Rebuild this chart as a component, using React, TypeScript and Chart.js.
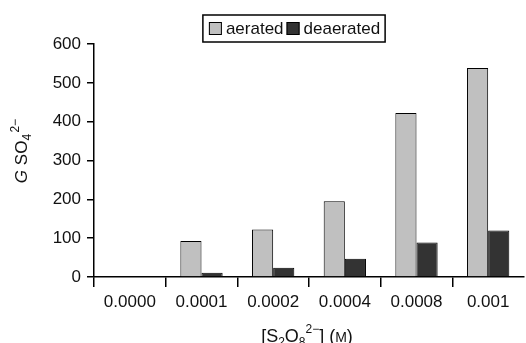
import React, { useEffect, useRef } from 'react';
import { Chart, registerables } from 'chart.js';

Chart.register(...registerables);

const categories = ['0.0000', '0.0001', '0.0002', '0.0004', '0.0008', '0.001'];
const aerated = [2, 93, 122, 195, 422, 538];
const deaerated = [0, 11, 24, 47, 89, 120];
const seriesNames = ['aerated', 'deaerated'];
const seriesColors = ['#c0c0c0', '#333333'];
const yMin = 0;
const yMax = 600;
const yStep = 100;

const FAMILY = "'Liberation Sans', Arial, sans-serif";
const TEXT = '#111';

type Seg = { t: string; size: number; dy: number; italic?: boolean };

function segWidth(ctx: CanvasRenderingContext2D, s: Seg) {
  ctx.font = `${s.italic ? 'italic ' : ''}${s.size}px ${FAMILY}`;
  return ctx.measureText(s.t).width;
}

function drawRich(ctx: CanvasRenderingContext2D, segs: Seg[], cx: number, by: number) {
  let total = 0;
  for (const s of segs) total += segWidth(ctx, s);
  let x = cx - total / 2;
  ctx.textAlign = 'left';
  ctx.textBaseline = 'alphabetic';
  for (const s of segs) {
    const w = segWidth(ctx, s);
    ctx.fillText(s.t, x, by + s.dy);
    x += w;
  }
}

const xTickColor = (c: any) =>
  typeof c.index === 'number' && c.index < categories.length ? '#000' : 'rgba(0,0,0,0)';

const annotPlugin = {
  id: 'annot',
  afterDraw(chart: any) {
    const ctx: CanvasRenderingContext2D = chart.ctx;
    ctx.save();
    ctx.fillStyle = TEXT;

    const fs = 17;
    ctx.font = `${fs}px ${FAMILY}`;
    const ds = chart.data.datasets;
    const box = 13, gapBT = 4, gapItem = 3, padL = 6, padR = 5;
    let total = padL + padR;
    const widths = ds.map((d: any) => ctx.measureText(d.label).width);
    ds.forEach((d: any, i: number) => {
      total += box + gapBT + widths[i];
      if (i < ds.length - 1) total += gapItem;
    });
    const cx = 294;
    const top = 15, h = 27;
    const left = cx - total / 2;
    ctx.strokeStyle = '#000';
    ctx.lineWidth = 1.5;
    ctx.strokeRect(left, top, total, h);
    let x = left + padL;
    const my = top + h / 2;
    ds.forEach((d: any, i: number) => {
      ctx.fillStyle = d.backgroundColor;
      ctx.fillRect(x, my - box / 2, box, box);
      ctx.lineWidth = 1;
      ctx.strokeStyle = '#000';
      ctx.strokeRect(x + 0.5, my - box / 2 + 0.5, box - 1, box - 1);
      x += box + gapBT;
      ctx.fillStyle = TEXT;
      ctx.font = `${fs}px ${FAMILY}`;
      ctx.textAlign = 'left';
      ctx.textBaseline = 'middle';
      ctx.fillText(d.label, x, my + 1);
      x += widths[i] + gapItem;
    });

    ctx.fillStyle = TEXT;
    ctx.save();
    ctx.translate(27, 151);
    ctx.rotate(-Math.PI / 2);
    drawRich(ctx, [
      { t: 'G', size: 17, dy: 0, italic: true },
      { t: ' SO', size: 17, dy: 0 },
      { t: '4', size: 12, dy: 4 },
      { t: ' ', size: 5, dy: 0 },
      { t: '2\u2212', size: 12, dy: -8 },
    ], 0, 0);
    ctx.restore();

    drawRich(ctx, [
      { t: '[S', size: 18, dy: 0 },
      { t: '2', size: 12, dy: 4 },
      { t: 'O', size: 18, dy: 0 },
      { t: '8', size: 12, dy: 4 },
      { t: '2\u2212', size: 12, dy: -9 },
      { t: '] (', size: 18, dy: 0 },
      { t: 'M', size: 14, dy: 0 },
      { t: ')', size: 18, dy: 0 },
    ], 307, 342);

    ctx.restore();
  },
};

export default function App() {
  const ref = useRef<HTMLCanvasElement>(null);
  useEffect(() => {
    const canvas = ref.current;
    if (!canvas) return;
    const chart = new Chart(canvas, {
      type: 'bar',
      data: {
        labels: categories,
        datasets: [
          {
            label: seriesNames[0],
            data: aerated,
            backgroundColor: seriesColors[0],
            borderColor: '#000',
            borderWidth: 1,
            categoryPercentage: 0.59,
            barPercentage: 1.0,
          },
          {
            label: seriesNames[1],
            data: deaerated,
            backgroundColor: seriesColors[1],
            borderColor: '#000',
            borderWidth: 1,
            categoryPercentage: 0.59,
            barPercentage: 1.0,
          },
        ],
      },
      options: {
        responsive: false,
        animation: false,
        layout: { padding: { top: 44, right: 2, left: 0, bottom: 0 } },
        plugins: {
          legend: { display: false },
          tooltip: { enabled: false },
          title: { display: false },
        },
        scales: {
          x: {
            type: 'category',
            grid: {
              offset: true,
              drawOnChartArea: false,
              drawTicks: true,
              tickLength: 10,
              color: xTickColor,
              tickColor: xTickColor,
              lineWidth: 1.5,
              tickWidth: 1.5,
            },
            border: { color: '#000', width: 1.5 },
            ticks: {
              color: TEXT,
              font: { family: FAMILY, size: 17 },
              padding: 5,
              maxRotation: 0,
              autoSkip: false,
            },
            afterFit: (s: any) => {
              s.height = 66;
            },
          },
          y: {
            min: yMin,
            max: yMax,
            grid: {
              drawOnChartArea: false,
              drawTicks: true,
              tickLength: 7,
              color: '#000',
              lineWidth: 1.5,
            },
            border: { color: '#000', width: 1.5 },
            ticks: {
              stepSize: yStep,
              color: TEXT,
              font: { family: FAMILY, size: 17 },
              padding: 6,
            },
            afterFit: (s: any) => {
              s.width = 94;
            },
          },
        },
      },
      plugins: [annotPlugin],
    });
    return () => chart.destroy();
  }, []);
  return (
    <div style={{ position: 'absolute', left: 0, top: 0, width: 526, height: 343, background: '#fff' }}>
      <canvas ref={ref} width={526} height={343} />
    </div>
  );
}
